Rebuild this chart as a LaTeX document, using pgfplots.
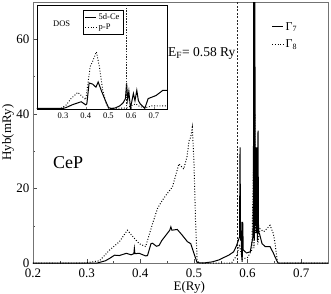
\documentclass[border=0pt]{standalone}
\usepackage{fontspec}
\setmainfont{Liberation Serif}
\usepackage{pgfplots}
\pgfplotsset{compat=1.18}
\begin{document}
\begin{tikzpicture}
\begin{axis}[
  at={(0pt,0pt)}, anchor=south west,
  scale only axis, width=295pt, height=261pt,
  xmin=0.2, xmax=0.75, ymin=0, ymax=70,
  xtick={0.2,0.3,0.4,0.5,0.6,0.7}, minor x tick num=1,
  ytick={0,20,40,60}, minor y tick num=1,
  tick align=inside, xtick pos=bottom, ytick pos=left,
  major tick length=4pt, minor tick length=2.5pt,
  tick style={black!70},
  axis line style={black!55, line width=0.8pt},
  /pgf/number format/assume math mode=true,
  xticklabel style={/pgf/number format/fixed, /pgf/number format/precision=1, yshift=-2pt},
  ticklabel style={font=\fontsize{13}{14}\selectfont},
  label style={font=\fontsize{13}{14}\selectfont},
  xlabel={E(Ry)}, ylabel={Hyb(mRy)},
  xlabel style={at={(axis description cs:0.53,-0.093)}, anchor=center},
  ylabel style={at={(axis description cs:-0.085,0.5)}, anchor=center},
  legend style={draw=none, fill=none, at={(rel axis cs:0.805,0.935)}, anchor=north west,
    font=\fontsize{12}{13}\selectfont, row sep=4pt, inner sep=1pt},
  legend cell align=left,
  legend image code/.code={\draw[#1] (0pt,0pt) -- (11pt,0pt);},
]
\addplot[black, line width=1pt] coordinates {
(0.2,0) (0.32,0) (0.335,0.6) (0.343,1.25) (0.352,2.1) (0.361,2.0) (0.374,2.6)
(0.383,2.2) (0.388,2.5) (0.389,3.9) (0.390,2.5) (0.398,2.6) (0.41,1.9) (0.4135,2.0)
(0.42,5.2) (0.423,5.3) (0.43,4.5) (0.435,4.7) (0.44,6.0) (0.448,7.5) (0.455,8.8)
(0.457,9.7) (0.459,8.8) (0.469,9.0) (0.478,7.5) (0.488,5.7) (0.494,5.2) (0.5,2.6)
(0.506,0.1) (0.518,0) (0.534,0.3) (0.546,0.8) (0.559,1.7) (0.565,2.1) (0.574,3.0)
(0.579,4.5) (0.583,6.1) (0.585,7) (0.586,31) (0.587,6) (0.588,11) (0.589,2)
(0.590,0.3) (0.591,11) (0.592,3.5) (0.598,2.7) (0.605,3.0) (0.610,7) (0.611,20)
(0.6115,80) (0.6125,6) (0.6135,80) (0.6145,10) (0.6155,31) (0.6165,8) (0.6175,31)
(0.6185,6) (0.6195,35.5) (0.6205,8) (0.622,8) (0.627,5.2) (0.633,4.4) (0.642,4.4)
(0.648,2.7) (0.654,0.8) (0.657,0) (0.75,0)
};
\addlegendentry{Γ\textsubscript{7}}
\addplot[black, line width=1pt, dash pattern=on 0.9pt off 1.8pt] coordinates {
(0.2,0) (0.296,0) (0.324,0.6) (0.343,3.5) (0.361,5.7) (0.376,8.8) (0.386,7.1)
(0.398,5.2) (0.41,4.4) (0.423,10.6) (0.432,14.6) (0.441,16.8) (0.45,18.6) (0.46,20.4)
(0.472,26.6) (0.481,25.2) (0.487,28.4) (0.491,32.8) (0.494,33.7) (0.497,36.4)
(0.5,27.5) (0.503,11.5) (0.506,0.8) (0.509,0) (0.57,0) (0.58,2) (0.585,5) (0.59,1)
(0.6,1.5) (0.608,3.5) (0.611,25) (0.612,4) (0.6135,40) (0.615,8) (0.617,20)
(0.619,5) (0.623,9.2) (0.63,8.4) (0.636,9.2) (0.642,10.1) (0.648,7.9) (0.651,5.5)
(0.656,0) (0.75,0)
};
\addlegendentry{Γ\textsubscript{8}}
\draw[line width=0.3pt, black!85, dash pattern=on 2pt off 1.5pt] (axis cs:0.58,0) -- (axis cs:0.58,70);
\node[anchor=east, font=\fontsize{13.5}{14}\selectfont, inner sep=1pt] at (axis cs:0.5795,56.3) {E\textsubscript{F}= 0.58 Ry};
\node[font=\fontsize{18}{19}\selectfont] at (rel axis cs:0.119,0.385) {CeP};
\end{axis}
\begin{axis}[
  at={(4pt,154pt)}, anchor=south west,
  scale only axis, width=130pt, height=104pt,
  xmin=0.1855, xmax=0.758, ymin=0, ymax=1,
  xtick={0.3,0.4,0.5,0.6,0.7}, ytick=\empty,
  tick align=inside, xtick pos=bottom,
  major tick length=2.5pt,
  axis line style={black, line width=0.6pt},
  axis background/.style={fill=white},
  /pgf/number format/assume math mode=true,
  xticklabel style={/pgf/number format/fixed, /pgf/number format/precision=1},
  ticklabel style={font=\fontsize{8.5}{9}\selectfont},
  legend style={draw=black, fill=white, at={(rel axis cs:0.354,0.955)}, anchor=north west,
    font=\fontsize{8.5}{9}\selectfont, row sep=-1pt, inner sep=1.5pt},
  legend cell align=left,
  legend image code/.code={\draw[#1] (0pt,0pt) -- (11pt,0pt);},
]
\addplot[black, line width=1pt] coordinates {
(0.185,0.005) (0.3,0.005) (0.315,0.015) (0.34,0.04) (0.36,0.055) (0.38,0.07)
(0.40,0.04) (0.405,0.05) (0.415,0.25) (0.43,0.24) (0.445,0.21) (0.455,0.26)
(0.47,0.17) (0.485,0.09) (0.5,0.015) (0.51,0.005) (0.53,0.01) (0.55,0.03)
(0.565,0.06) (0.575,0.1) (0.58,0.25) (0.585,0.09) (0.59,0.17) (0.597,0.005)
(0.61,0.15) (0.617,0.08) (0.625,0.18) (0.632,0.08) (0.64,0.05) (0.66,0.005)
(0.675,0.1) (0.71,0.13) (0.74,0.18) (0.758,0.18)
};
\addlegendentry{5d-Ce}
\addplot[black, line width=0.9pt, dash pattern=on 0.9pt off 1.8pt] coordinates {
(0.185,0.005) (0.29,0.005) (0.315,0.04) (0.335,0.1) (0.365,0.16) (0.38,0.13)
(0.40,0.09) (0.42,0.41) (0.43,0.455) (0.447,0.55) (0.46,0.41) (0.475,0.18)
(0.49,0.055) (0.5,0.01) (0.52,0.005) (0.58,0.01) (0.6,0.03) (0.62,0.05)
(0.64,0.02) (0.67,0.015) (0.69,0.03) (0.758,0.03)
};
\addlegendentry{p-P}
\draw[line width=0.3pt, black!85, dash pattern=on 1.5pt off 1.2pt] (axis cs:0.58,0) -- (axis cs:0.58,1);
\node[font=\fontsize{8.5}{9}\selectfont] at (rel axis cs:0.19,0.82) {DOS};
\end{axis}
\pgfresetboundingbox
\path[use as bounding box] (-33pt,-30pt) rectangle (298pt,263pt);
\end{tikzpicture}
\end{document}
